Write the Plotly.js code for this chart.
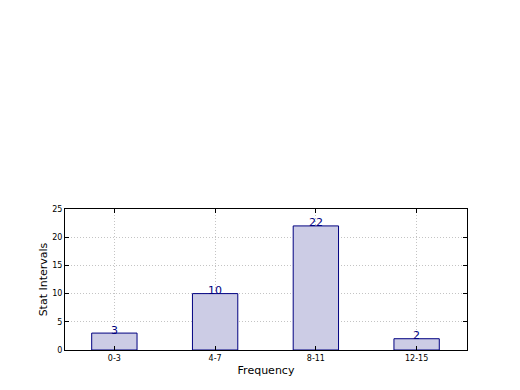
<!DOCTYPE html>
<html><head><meta charset="utf-8">
<script src="https://cdn.plot.ly/plotly-3.0.1.min.js"></script>
<style>body{margin:0;background:#fff}#c{width:520px;height:390px}</style>
</head><body><div id="c"></div>
<script>
const categories = ["0-3", "4-7", "8-11", "12-15"];
const values = [3, 10, 22, 2];
const yTicks = [0, 5, 10, 15, 20, 25];

const trace = {
  type: "bar",
  x: categories.map((_, i) => i),
  y: values,
  width: 0.45,
  marker: {color: "rgb(204,204,229)", line: {color: "#000080", width: 1}},
  hoverinfo: "none"
};
const annotations = values.map((v, i) => ({
  x: i, y: v, xref: "x", yref: "y",
  text: String(v), showarrow: false,
  yanchor: "middle", yshift: 3,
  font: {family: "DejaVu Sans", size: 11, color: "#000080"}
}));
const layout = {
  width: 520, height: 390,
  margin: {l: 65, r: 53, t: 209, b: 40},
  paper_bgcolor: "#fff", plot_bgcolor: "#fff",
  showlegend: false,
  bargap: 0,
  annotations: annotations,
  font: {family: "DejaVu Sans", color: "#000"},
  xaxis: {
    range: [-0.49, 3.5],
    tickvals: categories.map((_, i) => i), ticktext: categories,
    tickfont: {size: 8}, ticks: "inside", ticklen: 4, tickcolor: "#000",
    showline: true, linecolor: "#000", linewidth: 1, mirror: "ticks",
    showgrid: true, gridcolor: "#c4c4c4", griddash: "1px,2px", gridwidth: 1,
    zeroline: false,
    title: {text: "Frequency", font: {size: 11}, standoff: 4}
  },
  yaxis: {
    range: [0, 25],
    tickvals: yTicks,
    tickfont: {size: 8}, ticks: "inside", ticklen: 4, tickcolor: "#000",
    showline: true, linecolor: "#000", linewidth: 1, mirror: "ticks",
    showgrid: true, gridcolor: "#c4c4c4", griddash: "1px,2px", gridwidth: 1,
    zeroline: false,
    title: {text: "Stat Intervals", font: {size: 11}, standoff: 2}
  }
};
Plotly.newPlot("c", [trace], layout, {staticPlot: true});
</script></body></html>
